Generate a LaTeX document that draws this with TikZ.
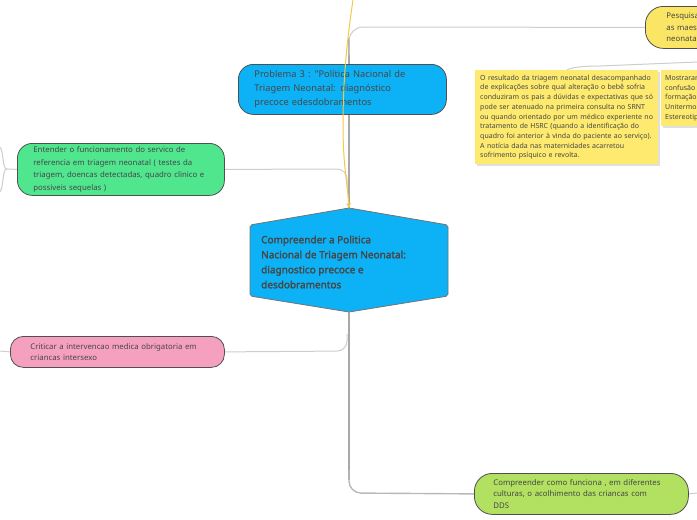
\documentclass[tikz,border=0pt]{standalone}
\usepackage{fontspec}
\setmainfont{Noto Sans}[AutoFakeBold=2.2]
\usetikzlibrary{arrows.meta,backgrounds}
\definecolor{cblue}{RGB}{12,178,245}
\definecolor{cgreen}{RGB}{80,230,142}
\definecolor{cpink}{RGB}{246,160,192}
\definecolor{clime}{RGB}{178,224,96}
\definecolor{cyel}{RGB}{250,230,100}
\definecolor{cnote}{RGB}{253,234,110}
\definecolor{ctext}{RGB}{70,70,70}
\definecolor{cline}{RGB}{205,205,205}
\definecolor{ctrunk}{RGB}{168,168,168}
\definecolor{carrow}{RGB}{245,200,70}
\definecolor{cborder}{RGB}{80,80,80}
\begin{document}
\begin{tikzpicture}[x=1pt,y=1pt,
  topic/.style={draw=cborder, line width=0.8pt, rounded corners=15pt, align=left,
    text=ctext, anchor=north west, inner ysep=0pt},
  smalltxt/.style={font=\fontsize{7.8}{12.4}\selectfont},
  notebox/.style={fill=cnote, anchor=north west, align=left, text=ctext,
    inner ysep=0pt, font=\fontsize{7}{9.7}\selectfont},
  conn/.style={draw=cline, line width=1pt},
  trunk/.style={draw=ctrunk, line width=2.6pt},
  yarrow/.style={draw=carrow, line width=1pt, -{Triangle[length=4.5pt,width=4.5pt]}}
]
\useasboundingbox (0,0) rectangle (697,-520);
\clip (0,0) rectangle (697,-520);

% coordinates
\coordinate (ttop) at (349,-38);
\coordinate (ctop) at (349,-208);
\coordinate (cbot) at (349,-312);
\coordinate (tlow) at (349,-480);
\coordinate (ysrc) at (353,0);
\coordinate (gl1) at (0,-147);
\coordinate (gl2) at (0,-192);
\coordinate (pl) at (0,-351);
\coordinate (nr) at (697,-62);
\coordinate (lr) at (697,-493);
\coordinate (pr) at (697,-27);

% nodes
\node[topic, fill=cblue, minimum width=208pt, minimum height=50pt, inner xsep=16pt,
  text width=176pt, font=\fontsize{9.3}{14}\selectfont, text=black!72]
  (prob) at (238,-64)
  {Problema 3 : "Política Nacional de\\Triagem Neonatal: diagnóstico\\precoce edesdobramentos};

\node[topic, fill=cyel, minimum width=120pt, minimum height=42pt, inner xsep=21pt,
  text width=78pt, rounded corners=18pt, font=\fontsize{7.8}{11.5}\selectfont]
  (pesq) at (645,-6)
  {Pesquisar\\as maes\\neonatal};

\fill[black!12] (476.5,-71.5) rectangle (659.5,-165.5);
\node[notebox, minimum width=183pt, minimum height=94pt, inner xsep=5pt, text width=173pt]
  (note1) at (475,-70)
  {O resultado da triagem neonatal desacompanhado\\
   de explicações sobre qual alteração o bebê sofria\\
   conduziram os pais a dúvidas e expectativas que só\\
   pode ser atenuado na primeira consulta no SRNT\\
   ou quando orientado por um médico experiente no\\
   tratamento de HSRC (quando a identificação do\\
   quadro foi anterior à vinda do paciente ao serviço).\\
   A notícia dada nas maternidades acarretou\\
   sofrimento psíquico e revolta.};

\fill[black!12] (662.5,-71.5) rectangle (760,-127.5);
\node[notebox, minimum width=100pt, minimum height=56pt, inner xsep=4pt, text width=92pt]
  (note2) at (661,-70)
  {Mostraram\\confusão\\formação\\Unitermo\\Estereotip};

\node[topic, fill=cgreen, minimum width=207pt, minimum height=52pt, inner xsep=16pt,
  text width=175pt, smalltxt]
  (green) at (17,-143)
  {Entender o funcionamento do servico de\\referencia em triagem neonatal ( testes da\\triagem, doencas detectadas, quadro clinico e\\possiveis sequelas )};

\node[topic, fill=cpink, minimum width=214pt, minimum height=31pt, inner xsep=20pt,
  text width=174pt, rounded corners=13pt, font=\fontsize{7.8}{11}\selectfont]
  (pink) at (10,-336)
  {Criticar a intervencao medica obrigatoria em\\criancas intersexo};

\node[topic, fill=clime, minimum width=214pt, minimum height=41pt, inner xsep=19pt,
  text width=176pt, rounded corners=18pt, font=\fontsize{7.8}{11.5}\selectfont]
  (lime) at (474,-473)
  {Compreender como funciona , em diferentes\\culturas, o acolhimento das criancas com\\DDS};

% central hexagon
\draw[fill=cblue, draw=black!55, line width=0.8pt, rounded corners=2pt]
  (250,-225) -- (ctop) -- (448,-225) -- (448,-296) -- (cbot) -- (250,-296) -- cycle;
\node[anchor=west, align=left, inner sep=0pt, text=black!72,
  font=\fontsize{10}{15}\selectfont\bfseries] (central) at (261,-262)
  {Compreender a Politica\\Nacional de Triagem Neonatal:\\diagnostico precoce e\\desdobramentos};

% connectors behind
\begin{scope}[on background layer]
  \draw[trunk] (ttop) -- (ctop);
  \draw[trunk] (cbot) -- (tlow);
  \draw[conn, rounded corners=14pt] (349,-55) -- (349,-27) -- (pesq.west);
  \draw[conn] (pesq.east) -- (pr);
  \draw[conn] (note1.north) .. controls (572,-67) and (585,-66) .. (600,-66) -- (nr);
  \draw[conn, rounded corners=10pt] (green.east) -- (347,-169) -- (347,-188);
  \draw[conn] (green.west) -- (7,-169) .. controls (2,-169) and (4,-152) .. (gl1);
  \draw[conn] (7,-169) .. controls (2,-169) and (4,-186) .. (gl2);
  \draw[conn, rounded corners=10pt] (pink.east) -- (347,-351) -- (347,-334);
  \draw[conn] (pink.west) -- (pl);
  \draw[conn, line width=1.4pt, draw=ctrunk!80, rounded corners=12pt] (349,-470) -- (349,-493) -- (lime.west);
  \draw[conn] (lime.east) -- (lr);
\end{scope}

% yellow arrow
\draw[yarrow] (ysrc) .. controls (347,-40) and (343,-80) .. (343,-125)
  .. controls (343,-165) and (347,-180) .. (ctop);
\end{tikzpicture}
\end{document}
